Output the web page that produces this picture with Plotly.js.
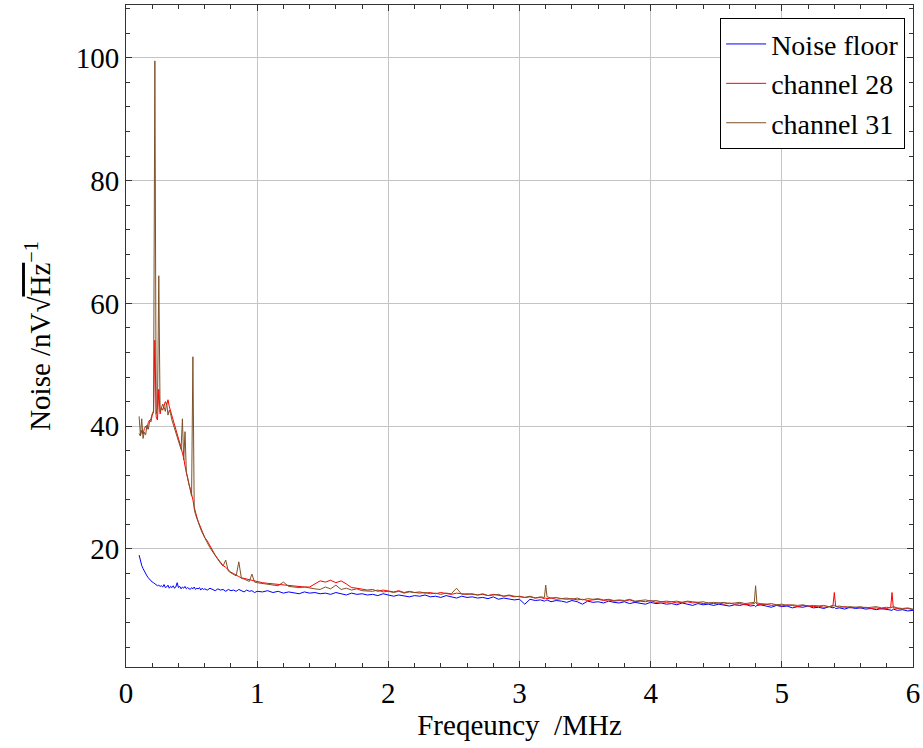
<!DOCTYPE html>
<html>
<head>
<meta charset="utf-8">
<script src="https://cdn.plot.ly/plotly-3.0.1.min.js"></script>
<style>html,body{margin:0;padding:0;background:#fff;}#chart{width:923px;height:748px;}</style>
</head>
<body>
<div id="chart"></div>
<script>
// Frequency axis (MHz)
const freq = [
  0.10,0.11,0.12,0.13,0.14,0.15,0.16,0.17,0.18,0.19,
  0.20,0.21,0.22,0.23,0.24,0.25,0.26,0.27,0.28,0.29,
  0.30,0.31,0.32,0.33,0.34,0.35,0.36,0.37,0.38,0.39,
  0.40,0.41,0.42,0.43,0.44,0.45,0.46,0.47,0.48,0.49,
  0.50,0.51,0.52,0.53,0.54,0.55,0.56,0.57,0.58,0.59,0.60,
  0.62,0.64,0.66,0.68,0.70,0.72,0.74,0.76,0.78,0.80,
  0.82,0.84,0.86,0.88,0.90,0.92,0.94,0.96,0.98,1.00,
  1.04,1.08,1.12,1.16,1.20,1.24,1.28,1.32,1.36,1.40,
  1.44,1.48,1.52,1.56,1.60,1.64,1.68,1.72,1.76,1.80,
  1.84,1.88,1.92,1.96,2.00,2.04,2.08,2.12,2.16,2.20,
  2.24,2.28,2.32,2.36,2.40,2.44,2.48,2.52,2.56,2.60,
  2.64,2.68,2.72,2.76,2.80,2.84,2.88,2.92,2.96,3.00,
  3.04,3.08,3.12,3.16,3.19,3.20,3.21,3.24,3.28,3.32,
  3.36,3.40,3.44,3.48,3.52,3.56,3.60,3.64,3.68,3.72,
  3.76,3.80,3.84,3.88,3.92,3.96,4.00,4.04,4.08,4.12,
  4.16,4.20,4.24,4.28,4.32,4.36,4.40,4.44,4.48,4.52,
  4.56,4.60,4.64,4.68,4.72,4.76,4.79,4.80,4.81,4.84,
  4.88,4.92,4.96,5.00,5.04,5.08,5.12,5.16,5.20,5.24,
  5.28,5.32,5.36,5.39,5.40,5.41,5.44,5.48,5.52,5.56,
  5.60,5.64,5.68,5.72,5.76,5.80,5.83,5.84,5.85,5.88,
  5.92,5.96,6.00
];

// Noise floor (nV/sqrt(Hz))
const noiseFloor = [
  19.0,18.0,17.3,16.8,16.3,15.9,15.6,15.3,15.0,14.8,
  14.6,14.5,14.3,14.2,14.0,14.1,13.9,14.0,13.8,14.2,
  13.7,13.8,14.1,13.6,13.9,13.7,14.0,13.6,13.8,14.5,
  13.7,13.9,13.5,13.8,13.6,13.9,13.5,13.7,13.6,13.4,
  13.7,13.5,13.8,13.4,13.6,13.5,13.7,13.3,13.6,13.4,13.5,
  13.3,13.6,13.4,13.2,13.5,13.3,13.4,13.1,13.4,13.2,
  13.3,13.1,13.4,13.2,13.0,13.3,13.1,13.2,12.9,13.1,
  13.0,13.2,12.9,13.1,12.8,13.0,12.9,12.7,13.0,12.8,
  12.9,12.7,12.8,12.6,12.9,12.7,12.5,12.8,12.6,12.7,
  12.5,12.6,12.4,12.7,12.5,12.3,12.5,12.4,12.2,12.4,
  12.3,12.5,12.2,12.3,12.1,12.4,12.2,12.0,12.3,12.1,
  12.2,12.0,12.1,11.9,12.2,11.8,12.0,11.9,11.7,11.8,
  11.0,11.8,11.6,11.7,11.5,11.6,11.7,11.4,11.6,11.5,
  11.3,11.6,11.4,11.0,11.5,11.3,11.4,11.2,11.5,11.3,
  11.2,11.4,11.1,11.3,11.2,11.0,11.3,11.1,11.2,11.0,
  11.1,10.9,11.2,11.0,10.8,11.1,10.9,11.0,10.8,11.0,
  10.9,10.7,10.9,10.8,11.0,10.7,10.8,10.6,10.8,10.9,
  10.7,10.5,10.8,10.6,10.7,10.4,10.6,10.5,10.7,10.4,
  10.5,10.3,10.6,10.4,10.5,10.3,10.4,10.2,10.5,10.3,
  10.4,10.2,10.3,10.1,10.3,10.2,10.1,10.0,10.2,10.0,
  10.1,9.9,10.0
];

// channel 28
const channel28 = [
  38.8,38.4,39.3,38.7,39.6,40.0,39.5,40.6,41.0,40.7,
  41.8,42.3,54.0,41.5,41.0,46.0,42.0,43.0,42.6,43.3,
  44.0,43.5,44.3,43.2,42.5,41.8,41.0,40.2,39.5,38.8,
  38.0,37.3,36.5,35.6,34.8,33.5,32.4,31.3,30.5,29.8,
  29.0,28.0,26.8,25.8,25.2,24.5,24.0,23.3,22.9,22.4,21.9,
  21.3,20.5,19.8,19.0,18.4,17.8,17.3,17.0,16.6,16.2,
  16.0,15.7,15.5,15.3,15.2,15.0,14.9,14.8,14.7,14.6,
  14.5,14.4,14.3,14.2,14.1,14.0,14.0,13.9,13.8,13.8,
  14.3,14.8,14.6,14.9,14.5,14.8,14.3,13.7,13.6,13.4,
  13.3,13.4,13.1,13.3,13.1,13.0,13.2,12.9,13.1,12.9,
  13.0,12.8,12.9,12.7,12.9,12.8,12.6,12.8,12.7,12.6,
  12.7,12.5,12.6,12.4,12.6,12.5,12.3,12.4,12.2,12.3,
  12.1,12.2,12.0,12.1,11.9,12.0,11.9,12.0,11.8,11.9,
  11.8,11.9,11.7,11.8,11.6,11.7,11.8,11.6,11.7,11.5,
  11.6,11.5,11.7,11.4,11.5,11.4,11.6,11.3,11.4,11.3,
  11.4,11.2,11.3,11.4,11.2,11.3,11.1,11.2,11.1,11.2,
  11.0,11.2,11.0,11.1,10.9,11.0,11.1,11.3,11.0,10.9,
  11.0,10.8,10.9,10.7,10.9,10.8,10.6,10.8,10.7,10.6,
  10.7,10.5,10.6,10.8,12.9,10.7,10.5,10.6,10.4,10.5,
  10.4,10.5,10.3,10.4,10.2,10.3,10.5,12.9,10.4,10.3,
  10.2,10.3,10.1
];

// channel 31
const channel31 = [
  41.6,38.5,41.2,38.0,39.0,38.6,40.2,39.5,40.8,41.2,
  42.0,42.5,99.5,42.0,43.0,64.5,42.3,42.8,43.6,43.1,
  42.4,43.8,41.8,42.6,42.0,41.0,40.3,39.6,39.0,38.5,
  37.8,37.0,36.2,41.2,34.5,39.1,32.5,31.6,30.6,29.8,
  28.6,51.3,26.5,25.6,24.9,24.3,23.7,23.2,22.7,22.2,21.7,
  21.0,20.2,19.5,18.9,18.3,17.7,17.2,18.2,16.4,16.1,
  15.8,15.6,17.9,15.2,15.1,14.9,14.7,15.9,14.6,14.5,
  14.4,14.3,14.2,14.0,14.6,13.9,13.8,13.7,13.8,13.6,
  13.5,13.4,13.8,13.5,14.1,13.4,13.6,13.3,13.5,13.2,
  13.2,13.1,13.3,13.0,13.1,12.9,13.1,12.8,13.0,12.9,
  12.8,12.9,12.7,12.8,12.6,12.8,12.7,13.6,12.6,12.7,
  12.6,12.5,12.7,12.4,12.5,12.6,12.3,12.5,12.3,12.2,
  12.1,12.3,12.0,12.2,12.1,14.1,12.2,12.0,12.1,11.9,
  12.0,11.8,12.0,11.7,11.9,11.8,11.9,11.7,11.8,11.6,
  11.7,11.6,11.8,11.5,11.6,11.7,11.5,11.6,11.4,11.5,
  11.4,11.5,11.3,11.5,11.4,11.3,11.4,11.2,11.3,11.2,
  11.3,11.1,11.2,11.3,11.1,11.2,11.3,14.0,11.2,11.1,
  11.0,11.1,10.9,11.0,10.8,10.9,10.8,10.9,10.7,10.8,
  10.7,10.8,10.6,10.7,10.8,10.6,10.7,10.5,10.6,10.5,
  10.6,10.4,10.5,10.6,10.4,10.5,10.4,10.5,10.6,10.4,
  10.3,10.4,10.2
];

const seriesNames = ["Noise floor", "channel 28", "channel 31"];
const seriesColors = ["#0000ff", "#ff0000", "#7d5228"];
const xTicks = [0,1,2,3,4,5,6];
const yTicks = [20,40,60,80,100];

const FONT = "'Liberation Serif', 'Times New Roman', serif";
const FS = 29;
const values = [noiseFloor, channel28, channel31];
const traces = values.map((v, i) => ({
  x: freq, y: v, type: 'scatter', mode: 'lines', name: seriesNames[i],
  line: {color: seriesColors[i], width: 1}
}));

const axisCommon = {
  showline: true, linecolor: '#333', linewidth: 1, mirror: 'allticks',
  ticks: 'inside', ticklen: 6, tickcolor: '#333',
  showgrid: true, gridcolor: '#c4c4c4', gridwidth: 1,
  zeroline: false,
  tickfont: {family: FONT, size: FS, color: '#000'}
};

const layout = {
  width: 923, height: 748,
  margin: {l: 126, r: 10, t: 5, b: 81},
  paper_bgcolor: '#fff', plot_bgcolor: '#fff',
  font: {family: FONT, size: FS, color: '#000'},
  showlegend: true,
  legend: {
    x: 0.99, y: 0.98, xanchor: 'right', yanchor: 'top',
    bgcolor: '#fff', bordercolor: '#000', borderwidth: 1,
    font: {family: FONT, size: 28, color: '#000'},
    tracegroupgap: 0, itemwidth: 40
  },
  xaxis: Object.assign({}, axisCommon, {
    range: [0, 6], tickvals: xTicks, ticktext: xTicks.map(String),
    minor: {dtick: 0.2, tick0: 0, ticks: 'inside', ticklen: 4, tickcolor: '#333', showgrid: false},
    title: {text: 'Freqeuncy\u2002/MHz', font: {family: FONT, size: FS, color: '#000'}, standoff: 3}
  }),
  yaxis: Object.assign({}, axisCommon, {
    range: [0.77, 108.6], tickvals: yTicks, ticktext: yTicks.map(String),
    minor: {dtick: 4, tick0: 0, ticks: 'inside', ticklen: 4, tickcolor: '#333', showgrid: false},
    title: {text: 'Noise /nV√<span style="text-decoration:overline">Hz</span><sup>−1</sup>', font: {family: FONT, size: FS, color: '#000'}, standoff: 16}
  })
};

Plotly.newPlot('chart', traces, layout, {displayModeBar: false, staticPlot: true});
</script>
</body>
</html>
